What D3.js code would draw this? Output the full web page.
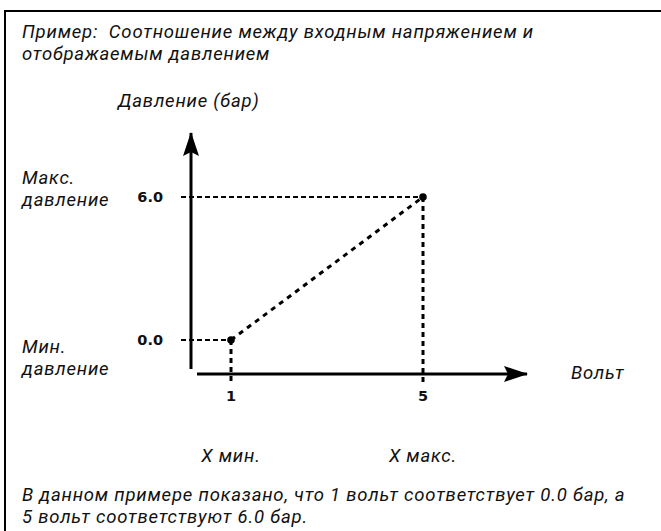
<!DOCTYPE html>
<html>
<head>
<meta charset="utf-8">
<script src="https://cdn.jsdelivr.net/npm/d3@7"></script>
<style>
  html, body { margin: 0; padding: 0; background: #fff; }
  svg { display: block; }
  .it { font-family: Roboto, "Open Sans", sans-serif; font-style: italic; font-size: 18.5px; letter-spacing: 0.8px; fill: #111; }
  .bold { font-family: "DejaVu Sans", "Noto Sans", sans-serif; font-weight: bold; font-size: 14.5px; fill: #111; }
</style>
</head>
<body>
<script>
// Input voltage (V) and displayed pressure (bar)
const volts = [1, 5];
const pressure = [0.0, 6.0];
const voltTickLabels = ["1", "5"];
const pressureTickLabels = ["0.0", "6.0"];
const xEndLabels = ["X мин.", "X макс."];
const titleLines = ["Пример:\u00a0 Соотношение между входным напряжением и", "отображаемым давлением"];
const yAxisTitle = "Давление (бар)";
const xAxisTitle = "Вольт";
const maxLabel = ["Макс.", "давление"];
const minLabel = ["Мин.", "давление"];
const noteLines = ["В данном примере показано, что 1 вольт соответствует 0.0 бар, а", "5 вольт соответствуют 6.0 бар."];

const W = 661, H = 531;
const svg = d3.select("body").append("svg").attr("width", W).attr("height", H);

// frame (top and left edges)
svg.append("path").attr("d", `M5,${H} L5,11 L${W},11`).attr("fill", "none").attr("stroke", "#000").attr("stroke-width", 2);

const x = d3.scaleLinear().domain([1, 5]).range([231, 423]);
const y = d3.scaleLinear().domain([0, 6]).range([340, 197]);

const axisX = 191;      // vertical axis position
const axisY = 374;      // horizontal axis position

// arrowheads
const defs = svg.append("defs");
defs.append("marker").attr("id", "arr").attr("viewBox", "0 0 24 16")
  .attr("refX", 23).attr("refY", 8).attr("markerWidth", 24).attr("markerHeight", 16)
  .attr("markerUnits", "userSpaceOnUse").attr("orient", "auto")
  .append("path").attr("d", "M0,0 L24,8 L0,16 L4,8 Z").attr("fill", "#000");

// axes
svg.append("line").attr("x1", axisX).attr("y1", axisY - 5).attr("x2", axisX).attr("y2", 133)
  .attr("stroke", "#000").attr("stroke-width", 3).attr("marker-end", "url(#arr)");
svg.append("line").attr("x1", axisX + 6).attr("y1", axisY).attr("x2", 527).attr("y2", axisY)
  .attr("stroke", "#000").attr("stroke-width", 3).attr("marker-end", "url(#arr)");

// guide lines to the axes
const g = svg.append("g").attr("stroke", "#000").attr("fill", "none");
pressure.forEach((p, i) => {
  g.append("line").attr("x1", axisX - 10).attr("x2", x(volts[i])).attr("y1", y(p)).attr("y2", y(p))
    .attr("stroke-width", 2).attr("stroke-dasharray", "5,3");
  g.append("line").attr("x1", x(volts[i])).attr("x2", x(volts[i])).attr("y1", y(p)).attr("y2", axisY + 9)
    .attr("stroke-width", 3).attr("stroke-dasharray", "5,4");
});

// characteristic line
const line = d3.line().x((d, i) => x(volts[i])).y(d => y(d));
g.append("path").attr("d", line(pressure)).attr("stroke-width", 3).attr("stroke-dasharray", "5,5");

// end points
svg.selectAll("circle.pt").data(pressure).join("circle").attr("class", "pt")
  .attr("cx", (d, i) => x(volts[i])).attr("cy", d => y(d)).attr("r", 3.8).attr("fill", "#000");

// tick labels
svg.selectAll("text.yt").data(pressure).join("text").attr("class", "bold yt")
  .attr("x", 163).attr("y", d => y(d)).attr("dy", "0.36em").attr("text-anchor", "end")
  .text((d, i) => pressureTickLabels[i]);
svg.selectAll("text.xt").data(volts).join("text").attr("class", "bold xt")
  .attr("x", d => x(d)).attr("y", 396).attr("dy", "0.36em").attr("text-anchor", "middle")
  .text((d, i) => voltTickLabels[i]);
svg.selectAll("text.xe").data(volts).join("text").attr("class", "it xe")
  .attr("x", d => x(d)).attr("y", 455).attr("dy", "0.36em").attr("text-anchor", "middle")
  .text((d, i) => xEndLabels[i]);

// multi-line text blocks
function block(lines, x0, y0, lh) {
  lines.forEach((s, i) => svg.append("text").attr("class", "it").attr("x", x0).attr("y", y0 + i * lh)
    .attr("dy", "0.36em").text(s));
}
block(titleLines, 22, 31, 22);
block([yAxisTitle], 118, 100, 0);
block(maxLabel, 22, 177, 22);
block(minLabel, 22, 346, 22);
block([xAxisTitle], 571, 372, 0);
block(noteLines, 22, 494, 22);
</script>
</body>
</html>
